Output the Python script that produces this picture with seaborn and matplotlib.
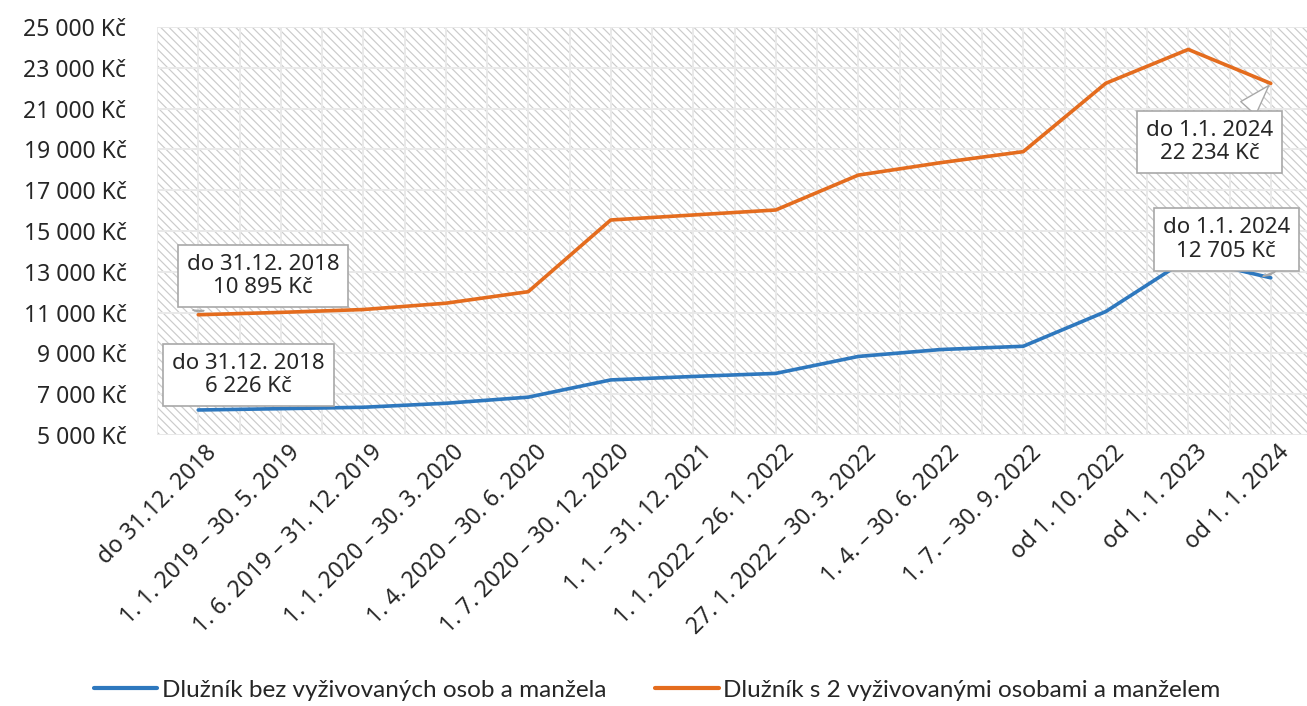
import numpy as np
import pandas as pd
import matplotlib
matplotlib.use("Agg")
import matplotlib.pyplot as plt
import matplotlib.transforms as mtransforms
from matplotlib.patches import Rectangle
from matplotlib.ticker import FuncFormatter, FixedLocator
import seaborn as sns

# ---------------- data ----------------
categories = [
    "do 31.12. 2018",
    "1. 1. 2019 – 30. 5. 2019",
    "1. 6. 2019 – 31. 12. 2019",
    "1. 1. 2020 – 30. 3. 2020",
    "1. 4. 2020 – 30. 6. 2020",
    "1. 7. 2020 – 30. 12. 2020",
    "1. 1. – 31. 12. 2021",
    "1. 1. 2022 – 26. 1. 2022",
    "27. 1. 2022 – 30. 3. 2022",
    "1. 4. – 30. 6. 2022",
    "1. 7. – 30. 9. 2022",
    "od 1. 10. 2022",
    "od 1. 1. 2023",
    "od 1. 1. 2024",
]
blue_values = [6226, 6290, 6360, 6555, 6855, 7700, 7870, 8020, 8850, 9190, 9350, 11050, 13650, 12705]
orange_values = [10895, 11010, 11150, 11460, 12025, 15540, 15785, 16030, 17740, 18350, 18890, 22240, 23900, 22234]
series_names = ["Dlužník bez vyživovaných osob a manžela",
                "Dlužník s 2 vyživovanými osobami a manželem"]
y_ticks = [5000, 7000, 9000, 11000, 13000, 15000, 17000, 19000, 21000, 23000, 25000]
first_label = "do 31.12. 2018"
last_label = "do 1.1. 2024"

BLUE = "#2E78BE"
ORANGE = "#E46C1E"
TXT = "#262626"

df = pd.DataFrame({
    "kategorie": categories * 2,
    "hodnota": blue_values + orange_values,
    "serie": [series_names[0]] * len(categories) + [series_names[1]] * len(categories),
})

# ---------------- style ----------------
sns.set_style("white")
plt.rcParams["font.family"] = ["Noto Sans", "DejaVu Sans"]
plt.rcParams["hatch.linewidth"] = 0.85
plt.rcParams["hatch.color"] = "#cbcbcb"

W, H = 1307, 706
fig = plt.figure(figsize=(W / 100, H / 100), dpi=100)
ax = fig.add_axes([157 / W, 1 - 435 / H, (1312 - 157) / W, (435 - 27) / H])

# hatched plot background
ax.add_patch(Rectangle((0, 0), 1, 1, transform=ax.transAxes, facecolor="white",
                       edgecolor="#cbcbcb", hatch="\\\\\\\\", lw=0, zorder=0.1))

sns.lineplot(data=df, x="kategorie", y="hodnota", hue="serie", sort=False,
             palette=[BLUE, ORANGE], linewidth=2.6, ax=ax, legend=False, zorder=3)

ax.set_xlim(-0.5, len(categories) - 0.5)
ax.set_ylim(y_ticks[0], y_ticks[-1])
ax.yaxis.set_major_locator(FixedLocator(y_ticks))
ax.yaxis.set_major_formatter(FuncFormatter(lambda v, p: f"{int(v):,}".replace(",", " ") + " Kč"))
ax.set_xticks(range(len(categories)))
ax.set_xticks(np.arange(-0.5, len(categories), 1.0), minor=True)
ax.set_xticklabels(categories, rotation=45, ha="right", va="center", rotation_mode="anchor")
ax.set_xlabel("")
ax.set_ylabel("")

ax.set_axisbelow(True)
ax.grid(True, which="major", axis="both", color="#e9e9e9", lw=1.4)
ax.grid(True, which="minor", axis="x", color="#e9e9e9", lw=1.4)
for s in ax.spines.values():
    s.set_visible(False)

ax.tick_params(axis="both", which="both", length=0)
ax.tick_params(axis="y", labelsize=16.5, labelcolor=TXT, pad=22)
ax.tick_params(axis="x", labelsize=16.5, labelcolor=TXT, pad=10)
offset = mtransforms.ScaledTranslation(11 / 72, 0, fig.dpi_scale_trans)
for lab in ax.get_xticklabels():
    lab.set_transform(lab.get_transform() + offset)

# ---------------- callouts ----------------
def fmt(v):
    return f"{v:,}".replace(",", " ") + " Kč"

box = dict(boxstyle="square,pad=0.4", fc="white", ec="#a8a8a8", lw=1.2)
last = len(categories) - 1
fs = 16

ax.annotate(f"{first_label}\n{fmt(orange_values[0])}", xy=(0, orange_values[0]),
            xytext=(0.785, 12800), textcoords="data", ha="center", va="center",
            fontsize=fs, color=TXT, linespacing=1.15, bbox=box, zorder=6,
            arrowprops=dict(arrowstyle="wedge,tail_width=0.5,shrink_factor=0.5",
                            fc="white", ec="#a8a8a8", lw=1.0, relpos=(0.08, 0.0)))
ax.annotate(f"{first_label}\n{fmt(blue_values[0])}", xy=(0, blue_values[0]),
            xytext=(0.61, 7940), textcoords="data", ha="center", va="center",
            fontsize=fs, color=TXT, linespacing=1.15, bbox=box, zorder=6)
ax.annotate(f"{last_label}\n{fmt(orange_values[last])}", xy=(last, orange_values[last]),
            xytext=(12.26, 19360), textcoords="data", ha="center", va="center",
            fontsize=fs, color=TXT, linespacing=1.15, bbox=box, zorder=6,
            arrowprops=dict(arrowstyle="wedge,tail_width=0.9,shrink_factor=0.5",
                            fc="white", ec="#a8a8a8", lw=1.0, relpos=(0.72, 1.0)))
ax.annotate(f"{last_label}\n{fmt(blue_values[last])}", xy=(last, blue_values[last]),
            xytext=(12.46, 14580), textcoords="data", ha="center", va="center",
            fontsize=fs, color=TXT, linespacing=1.15, bbox=box, zorder=6,
            arrowprops=dict(arrowstyle="wedge,tail_width=0.6,shrink_factor=0.5",
                            fc="white", ec="#a8a8a8", lw=1.0, relpos=(0.8, 0.0)))

# ---------------- legend ----------------
handles = [plt.Line2D([], [], color=BLUE, lw=3), plt.Line2D([], [], color=ORANGE, lw=3)]
fig.legend(handles, series_names, loc="center", bbox_to_anchor=(0.503, 0.022), ncol=2,
           frameon=False, handlelength=2.6, handletextpad=0.2,
           columnspacing=2.0, labelcolor=TXT, prop={"family": ["Lato", "DejaVu Sans"], "size": 17.5})

fig.savefig("out.png", dpi=100)
